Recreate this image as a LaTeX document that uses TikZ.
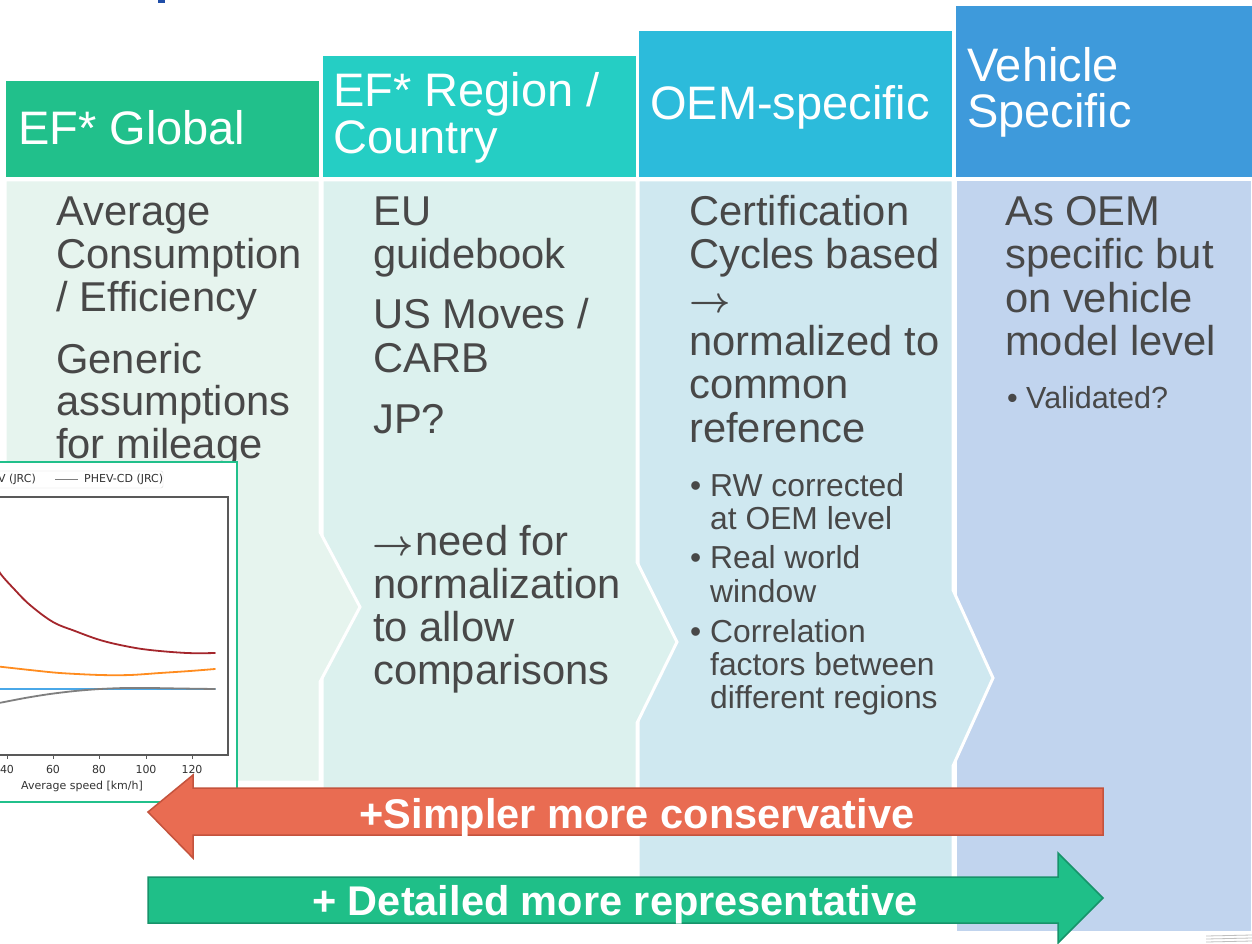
\documentclass[tikz,border=0pt]{standalone}
\usepackage{graphicx}
\usepackage{fontspec}
\setmainfont{Liberation Sans}
\newfontfamily\chartfont{DejaVu Sans}
\newcommand{\rarr}{\scalebox{3.6}{\fontsize{10}{12}\selectfont\boldmath$\rightarrow$}}
\definecolor{hdone}{HTML}{21C08B}
\definecolor{hdtwo}{HTML}{25CEC4}
\definecolor{hdthree}{HTML}{2CBBDB}
\definecolor{hdfour}{HTML}{3E9ADB}
\definecolor{bdone}{HTML}{E6F4EE}
\definecolor{bdtwo}{HTML}{DCF1EE}
\definecolor{bdthree}{HTML}{CFE8F0}
\definecolor{bdfour}{HTML}{C1D4EE}
\definecolor{txt}{HTML}{484848}
\definecolor{redfill}{HTML}{E96C52}
\definecolor{redline}{HTML}{C4533D}
\definecolor{grnfill}{HTML}{1FBF88}
\definecolor{grnline}{HTML}{17936A}
\definecolor{curvered}{HTML}{A4262C}
\definecolor{curveorange}{HTML}{FF8C1F}
\definecolor{curveblue}{HTML}{4AA8E8}
\definecolor{curvegray}{HTML}{7F7F7F}
\definecolor{titleblue}{HTML}{1F4EA8}
\begin{document}
\begin{tikzpicture}[x=1pt,y=-1pt,
  colbody/.style={draw=white,line width=3pt,line join=miter},
  header/.style={draw=white,line width=2pt},
  htext/.style={anchor=base west,inner sep=0pt,text=white,font=\fontsize{47}{47}\selectfont},
  body/.style={anchor=base west,inner sep=0pt,text=txt,font=\fontsize{41.7}{43}\selectfont},
  small/.style={anchor=base west,inner sep=0pt,text=txt,font=\fontsize{31.8}{33}\selectfont},
  arrowtext/.style={anchor=base,inner sep=0pt,text=white,font=\fontsize{41.5}{41}\selectfont\bfseries},
  charttext/.style={inner sep=0pt,text=black!80,font=\chartfont\fontsize{11}{11}\selectfont},
  curve/.style={line width=1.8pt,line cap=round}]
\useasboundingbox (0,0) rectangle (1252,944);
\fill[white] (0,0) rectangle (1252,944);

% column bodies, right to left so each chevron overlaps the next one
\filldraw[colbody,fill=bdfour] (955,180) rectangle (1252,932);
\filldraw[colbody,fill=bdthree] (638,180) -- (953,180) -- (953,590) -- (993,678)
  -- (953,766) -- (953,880) -- (638,880) -- cycle;
\filldraw[colbody,fill=bdtwo] (322,180) -- (637,180) -- (637,562) -- (677,642)
  -- (637,723) -- (637,790) -- (322,790) -- cycle;
\filldraw[colbody,fill=bdone] (5,180) -- (320,180) -- (320,532) -- (360,607)
  -- (320,682) -- (320,782) -- (5,782) -- cycle;

% header boxes, stepping upwards
\filldraw[header,fill=hdone] (5,80) rectangle (320,178);
\filldraw[header,fill=hdtwo] (322,55) rectangle (637,178);
\filldraw[header,fill=hdthree] (638,30) rectangle (953,178);
\filldraw[header,fill=hdfour] (955,5) rectangle (1253,178);

\node[htext] (h1) at (18,145) {EF* Global};
\node[htext] (h2a) at (333,107) {EF* Region /};
\node[htext] (h2b) at (333,154) {Country};
\node[htext] (h3) at (650,120) {OEM-specific};
\node[htext] (h4a) at (967,82) {Vehicle};
\node[htext] (h4b) at (967,128) {Specific};

% column 1
\node[body] (c1a) at (56,225) {Average};
\node[body] (c1b) at (56,268) {Consumption};
\node[body] (c1c) at (56,311) {/ Efficiency};
\node[body] (c1d) at (56,373) {Generic};
\node[body] (c1e) at (56,415) {assumptions};
\node[body] (c1f) at (56,458) {for mileage};

% column 2
\node[body] (c2a) at (373,225) {EU};
\node[body] (c2b) at (373,268) {guidebook};
\node[body] (c2c) at (373,328) {US Moves /};
\node[body] (c2d) at (373,372) {CARB};
\node[body] (c2e) at (373,433) {JP?};
\node[body] (c2f) at (372,555) {\rarr\kern2pt need for};
\node[body] (c2g) at (373,598) {normalization};
\node[body] (c2h) at (373,641) {to allow};
\node[body] (c2i) at (373,684) {comparisons};

% column 3
\node[body] (c3a) at (689,225) {Certification};
\node[body] (c3b) at (689,268) {Cycles based};
\node[body] (c3c) at (689,312) {\rarr};
\node[body] (c3d) at (689,355) {normalized to};
\node[body] (c3e) at (689,398) {common};
\node[body] (c3f) at (689,442) {reference};
\node[small] (c3g) at (690,496) {•};
\node[small] (c3h) at (710,496) {RW corrected};
\node[small] (c3i) at (710,529) {at OEM level};
\node[small] (c3j) at (690,568) {•};
\node[small] (c3k) at (710,568) {Real world};
\node[small] (c3l) at (710,602) {window};
\node[small] (c3m) at (690,642) {•};
\node[small] (c3n) at (710,642) {Correlation};
\node[small] (c3o) at (710,675) {factors between};
\node[small] (c3p) at (710,708) {different regions};

% column 4
\node[body] (c4a) at (1005,225) {As OEM};
\node[body] (c4b) at (1005,268) {specific but};
\node[body] (c4c) at (1005,312) {on vehicle};
\node[body] (c4d) at (1005,355) {model level};
\node[small,font=\fontsize{30.5}{32}\selectfont] (c4e) at (1007,408) {•};
\node[small,font=\fontsize{30.5}{32}\selectfont] (c4f) at (1026,408) {Validated?};

% inset chart: speed dependence of consumption
\filldraw[draw=hdone,line width=1.5pt,fill=white] (-5,462) rectangle (237,802);
\filldraw[draw=black!15,fill=white,rounded corners=2pt] (-5,471) rectangle (163,488);
\node[charttext,anchor=west] (lg1) at (-2,479.5) {V (JRC)};
\draw[curvegray,line width=1.4pt] (55,479.5) -- (78,479.5);
\node[charttext,anchor=west] (lg2) at (84,479.5) {PHEV-CD (JRC)};
\begin{scope}
  \clip (-5,497) rectangle (228,755);
  \draw[curve,curvered] plot[smooth,tension=0.6] coordinates
    {(-6,560) (0,573) (15,590) (30,605) (53,622) (75,631) (100,640) (125,646) (150,650) (187,653) (215,653)};
  \draw[curve,curveorange] plot[smooth] coordinates
    {(-6,666) (30,670) (60,673) (100,675) (130,675) (160,673) (190,671) (215,669)};
  \draw[curve,curveblue] (-6,689) -- (215,689);
  \draw[curve,curvegray] plot[smooth] coordinates
    {(-6,704) (25,698) (50,694) (75,691) (100,689) (125,688) (150,688) (180,688.5) (215,689)};
\end{scope}
\draw[black!65,line width=1.1pt] (-6,497) rectangle (228,755);
\foreach \v/\px in {40/7,60/53,80/99,100/146,120/192}{
  \draw[black!65,line width=1pt] (\px,755) -- (\px,759);
  \node[charttext,anchor=base] at (\px,773) {\v};
}
\node[charttext,anchor=base] (xlab) at (82,789) {Average speed [km/h]};

% direction arrows
\filldraw[fill=redfill,draw=redline,line width=1.5pt,line join=miter]
  (148,812) -- (193,775) -- (193,788) -- (1103,788) -- (1103,835)
  -- (193,835) -- (193,858) -- cycle;
\node[arrowtext] (simple) at (637,828) {+Simpler more conservative};
\filldraw[fill=grnfill,draw=grnline,line width=1.5pt,line join=miter]
  (148,877) -- (1058,877) -- (1058,853) -- (1103,898) -- (1058,943)
  -- (1058,923) -- (148,923) -- cycle;
\node[arrowtext] (detail) at (615,915) {+ Detailed more representative};

% fragments at the page edges
\fill[titleblue] (158,0) rectangle (165,3);
\foreach \yy in {935,938,941}{
  \draw[black!25,line width=0.8pt] (1206,\yy+1) -- (1252,\yy);
}
\end{tikzpicture}
\end{document}
